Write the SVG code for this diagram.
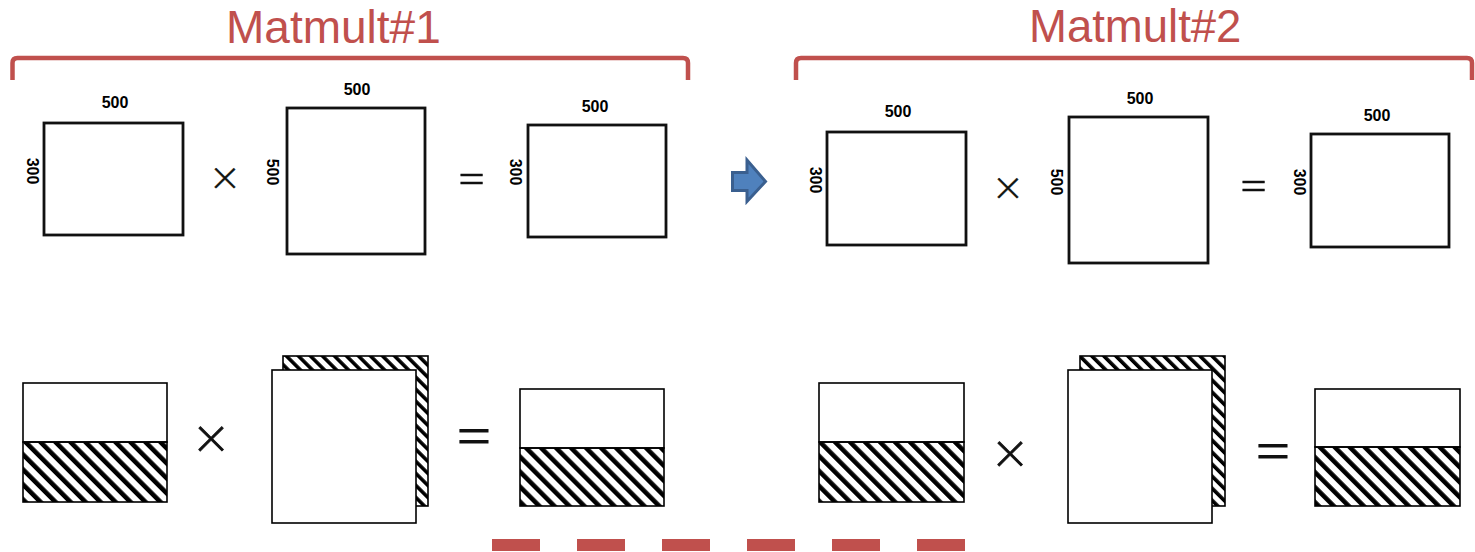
<svg xmlns="http://www.w3.org/2000/svg" width="1475" height="552" viewBox="0 0 1475 552">
  <defs>
    <!-- wide diagonal hatch for the row blocks -->
    <pattern id="hatch" patternUnits="userSpaceOnUse" width="10.6" height="10.6" patternTransform="rotate(-45)">
      <rect x="0" y="0" width="4.6" height="10.6" fill="#000"/>
    </pattern>
    <!-- finer hatch for the stacked back sheet -->
    <pattern id="hatch-fine" patternUnits="userSpaceOnUse" width="8.5" height="8.5" patternTransform="rotate(-45)">
      <rect x="0" y="0" width="3.6" height="8.5" fill="#000"/>
    </pattern>
  </defs>
  <style>
    .title { font-family: "Liberation Sans", Arial, sans-serif; font-size: 46px; fill: #C0504D; }
    .brace { fill: none; stroke: #C0504D; stroke-width: 4.5; stroke-linejoin: round; }
    .mat { fill: #fff; stroke: #111; stroke-width: 2.8; }
    .blk { fill: #fff; stroke: #000; stroke-width: 1.6; }
    .hat { fill: url(#hatch); stroke: #000; stroke-width: 1.6; }
    .hatf { fill: url(#hatch-fine); stroke: #000; stroke-width: 1.6; }
    .dim { font-family: "Liberation Sans", Arial, sans-serif; font-size: 16px; font-weight: bold; fill: #000; text-anchor: middle; }
    .op { font-family: Lato, "Liberation Sans", sans-serif; font-weight: 300; fill: #111; stroke: #111; stroke-width: 0.6; text-anchor: middle; }
    .op-lg { stroke-width: 0.9; }
    .dash { fill: none; stroke: #C0504D; stroke-width: 12; stroke-dasharray: 48 37; }
    .next { fill: #4F81BD; stroke: #3A5F8F; stroke-width: 3; stroke-linejoin: miter; }
  </style>

  <rect width="1475" height="552" fill="#fff"/>

  <!-- Matmult#1 header -->
  <g id="matmult1-header">
    <text class="title" x="226" y="43">Matmult#1</text>
    <path class="brace" d="M12.5,80 V63 Q12.5,58 17.5,58 H683 Q688,58 688,63 V80"/>
  </g>

  <!-- Matmult#2 header -->
  <g id="matmult2-header">
    <text class="title" x="1029" y="41.5" style="font-size:45.5px">Matmult#2</text>
    <path class="brace" d="M796,80 V63 Q796,58 801,58 H1467 Q1472,58 1472,63 V80"/>
  </g>

  <!-- Matmult#1: full matrices -->
  <g id="m1-a">
    <rect class="mat" x="44" y="123" width="139" height="112"/>
    <text class="dim" x="115" y="108">500</text>
    <text class="dim" transform="translate(33,171) rotate(90)" x="0" y="5.7">300</text>
  </g>
  <g id="m1-times">
    <text class="op" x="225" y="194.3" font-size="48">×</text>
  </g>
  <g id="m1-b">
    <rect class="mat" x="287" y="108" width="138" height="146"/>
    <text class="dim" x="357" y="95">500</text>
    <text class="dim" transform="translate(273,172) rotate(90)" x="0" y="5.7">500</text>
  </g>
  <g id="m1-equals">
    <text class="op" x="471.5" y="196.2" font-size="52">=</text>
  </g>
  <g id="m1-c">
    <rect class="mat" x="528" y="125" width="138" height="112"/>
    <text class="dim" x="595" y="112">500</text>
    <text class="dim" transform="translate(516,172) rotate(90)" x="0" y="5.7">300</text>
  </g>

  <!-- Matmult#2: full matrices -->
  <g id="m2-a">
    <rect class="mat" x="827" y="132" width="139" height="113"/>
    <text class="dim" x="898" y="117">500</text>
    <text class="dim" transform="translate(816,180) rotate(90)" x="0" y="5.7">300</text>
  </g>
  <g id="m2-times">
    <text class="op" x="1008" y="204.3" font-size="48">×</text>
  </g>
  <g id="m2-b">
    <rect class="mat" x="1069" y="117" width="139" height="146"/>
    <text class="dim" x="1140" y="104">500</text>
    <text class="dim" transform="translate(1057,182) rotate(90)" x="0" y="5.7">500</text>
  </g>
  <g id="m2-equals">
    <text class="op" x="1253.5" y="203.2" font-size="52">=</text>
  </g>
  <g id="m2-c">
    <rect class="mat" x="1311" y="134" width="138" height="113"/>
    <text class="dim" x="1377" y="121">500</text>
    <text class="dim" transform="translate(1300,182) rotate(90)" x="0" y="5.7">300</text>
  </g>

  <!-- Matmult#1: row-split blocks -->
  <g id="m1-a-rows">
    <rect class="blk" x="23" y="383" width="144" height="59"/>
    <rect class="hat" x="23" y="442" width="144" height="60"/>
  </g>
  <g id="m1-times-rows">
    <text class="op op-lg" x="211" y="457.7" font-size="58">×</text>
  </g>
  <g id="m1-b-stack">
    <rect class="hatf" x="283" y="356" width="145" height="150"/>
    <rect class="blk" x="272" y="370" width="144" height="153"/>
  </g>
  <g id="m1-equals-rows">
    <text class="op op-lg" x="474" y="460.4" font-size="68">=</text>
  </g>
  <g id="m1-c-rows">
    <rect class="blk" x="520" y="389" width="144" height="59"/>
    <rect class="hat" x="520" y="448" width="144" height="58"/>
  </g>

  <!-- Matmult#2: row-split blocks -->
  <g id="m2-a-rows">
    <rect class="blk" x="819" y="383" width="145" height="59"/>
    <rect class="hat" x="819" y="442" width="145" height="60"/>
  </g>
  <g id="m2-times-rows">
    <text class="op op-lg" x="1010" y="472.7" font-size="58">×</text>
  </g>
  <g id="m2-b-stack">
    <rect class="hatf" x="1080" y="356" width="145" height="150"/>
    <rect class="blk" x="1068" y="370" width="144" height="153"/>
  </g>
  <g id="m2-equals-rows">
    <text class="op op-lg" x="1273" y="475.4" font-size="68">=</text>
  </g>
  <g id="m2-c-rows">
    <rect class="blk" x="1315" y="389" width="145" height="58"/>
    <rect class="hat" x="1315" y="447" width="145" height="59"/>
  </g>

  <!-- connectors -->
  <g id="connectors">
    <polygon class="next" points="732.5,172.5 747,172.5 747,160 765.5,181.5 747,201.5 747,190.5 732.5,190.5"/>
    <line class="dash" x1="492" y1="545" x2="965" y2="545"/>
  </g>
</svg>
